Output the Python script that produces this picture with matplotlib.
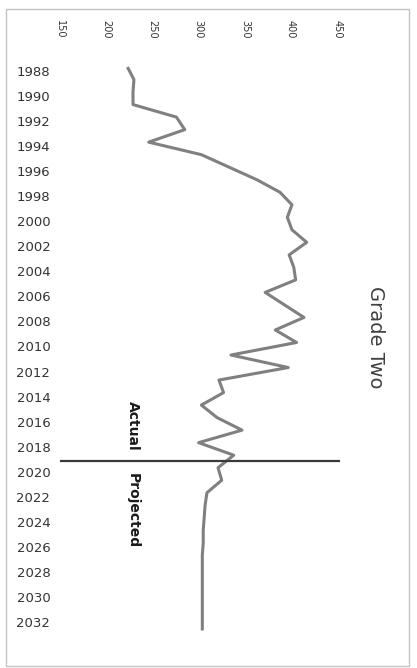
#!/usr/bin/env python3
# -*- coding: utf-8 -*-

import matplotlib
matplotlib.use('Agg')
import matplotlib.pyplot as plt
import matplotlib.patches as patches
import matplotlib.transforms as transforms

# 数据：年份与对应分数（1988-2019为实际值，2020以后为预测值）
years = list(range(1988, 2034))
scores = [223, 230, 229, 229, 276, 285, 246, 303, 333, 363,
          388, 401, 396, 401, 417, 398, 403, 405, 372, 393,
          414, 383, 406, 335, 397, 322, 327, 303, 320, 347,
          300, 338, 321, 325, 309, 307, 306, 305, 305, 304,
          304, 304, 304, 304, 304, 304]
tick_years = list(range(1988, 2033, 2))
value_ticks = [150, 200, 250, 300, 350, 400, 450]
divider_year = 2019.5
title = 'Grade Two'
actual_label = 'Actual'
projected_label = 'Projected'

fig = plt.figure(figsize=(4.17, 6.68), dpi=100)
ax = fig.add_axes([60 / 417, 1 - 643 / 668, 280 / 417, 588 / 668])

# 折线（横向为分数，纵向为年份）
ax.plot(scores, years, color='#808080', linewidth=2.2,
        solid_joinstyle='round', solid_capstyle='butt')
# 实际/预测分隔线
ax.axhline(divider_year, color='#3a3a3a', linewidth=1.6)

ax.set_xlim(150, 453)
ax.set_ylim(2034.0, 1987.04)

ax.xaxis.tick_top()
ax.set_xticks(value_ticks)
ax.tick_params(axis='x', length=0, pad=12, labelsize=7,
               labelrotation=-90, colors='#333333')
ax.set_yticks(tick_years)
ax.tick_params(axis='y', length=0, pad=7, labelsize=9.5, colors='#333333')

# 年份标签略微下移
offset = transforms.ScaledTranslation(0, -0.04, fig.dpi_scale_trans)
for lbl in ax.get_yticklabels():
    lbl.set_transform(lbl.get_transform() + offset)

for side in ['top', 'bottom', 'left', 'right']:
    ax.spines[side].set_visible(False)

ax.annotate(actual_label, xy=(0.26, divider_year), xycoords=ax.get_yaxis_transform(),
            xytext=(0, 8), textcoords='offset points', rotation=-90,
            ha='center', va='bottom', fontsize=10, fontweight='bold', color='#1a1a1a')
ax.annotate(projected_label, xy=(0.26, divider_year), xycoords=ax.get_yaxis_transform(),
            xytext=(0, -8), textcoords='offset points', rotation=-90,
            ha='center', va='top', fontsize=10, fontweight='bold', color='#1a1a1a')

fig.text(375 / 417, 1 - 337 / 668, title, rotation=-90, ha='center', va='center',
         fontsize=14, color='#404040')

# 外框
fig.add_artist(patches.Rectangle((6 / 417, 1 - 666 / 668), 403 / 417, 657 / 668,
                                 transform=fig.transFigure, fill=False,
                                 edgecolor='#c4c4c4', linewidth=1))

plt.savefig('out.png', dpi=100)
